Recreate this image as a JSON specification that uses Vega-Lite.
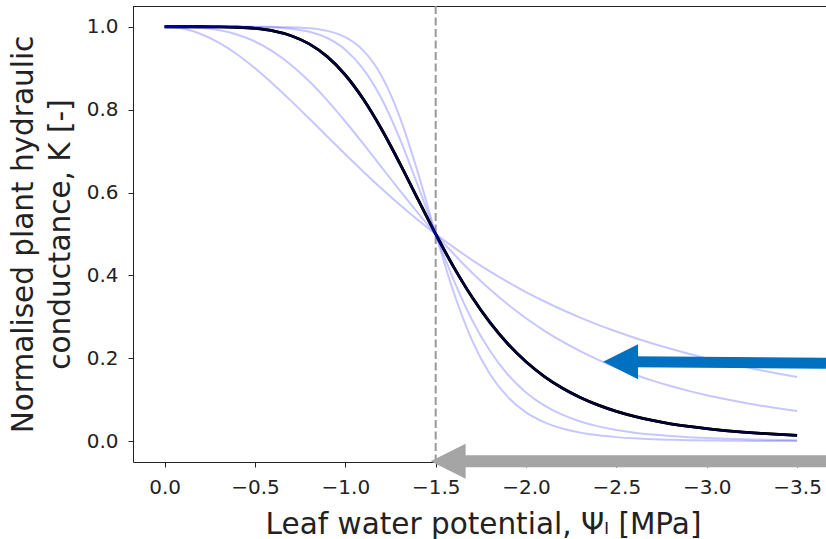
{
  "$schema": "https://vega.github.io/schema/vega-lite/v6.json",
  "autosize": "none",
  "padding": {"left": 133, "top": 6, "right": 0, "bottom": 77},
  "width": 693,
  "height": 456,
  "background": "white",
  "config": {
    "view": {"stroke": null},
    "font": "DejaVu Sans",
    "axis": {
      "grid": false,
      "labelFont": "DejaVu Sans",
      "labelFontSize": 20,
      "labelColor": "#222",
      "labelPadding": 10,
      "labelFlush": false,
      "labelOverlap": false,
      "tickSize": 5,
      "tickColor": "#222",
      "tickWidth": 1,
      "domainColor": "#222",
      "domainWidth": 1,
      "titleFont": "DejaVu Sans",
      "titleFontSize": 29.5,
      "titleFontWeight": "normal",
      "titleColor": "#222"
    }
  },
  "datasets": {
    "curves": [
      {"psi":0,"a":2,"K":1},{"psi":-0.1,"a":2,"K":0.9956},{"psi":-0.2,"a":2,"K":0.9825},{"psi":-0.3,"a":2,"K":0.9615},{"psi":-0.4,"a":2,"K":0.9336},{"psi":-0.5,"a":2,"K":0.9},{"psi":-0.6,"a":2,"K":0.8621},{"psi":-0.7,"a":2,"K":0.8212},{"psi":-0.8,"a":2,"K":0.7785},{"psi":-0.9,"a":2,"K":0.7353},{"psi":-1.0,"a":2,"K":0.6923},{"psi":-1.1,"a":2,"K":0.6503},{"psi":-1.2,"a":2,"K":0.6098},{"psi":-1.3,"a":2,"K":0.5711},{"psi":-1.4,"a":2,"K":0.5344},{"psi":-1.5,"a":2,"K":0.5},{"psi":-1.6,"a":2,"K":0.4678},{"psi":-1.7,"a":2,"K":0.4377},{"psi":-1.8,"a":2,"K":0.4098},{"psi":-1.9,"a":2,"K":0.384},{"psi":-2.0,"a":2,"K":0.36},{"psi":-2.1,"a":2,"K":0.3378},{"psi":-2.2,"a":2,"K":0.3173},{"psi":-2.3,"a":2,"K":0.2984},{"psi":-2.4,"a":2,"K":0.2809},{"psi":-2.5,"a":2,"K":0.2647},{"psi":-2.6,"a":2,"K":0.2497},{"psi":-2.7,"a":2,"K":0.2358},{"psi":-2.8,"a":2,"K":0.223},{"psi":-2.9,"a":2,"K":0.2111},{"psi":-3.0,"a":2,"K":0.2},{"psi":-3.1,"a":2,"K":0.1897},{"psi":-3.2,"a":2,"K":0.1801},{"psi":-3.3,"a":2,"K":0.1712},{"psi":-3.4,"a":2,"K":0.1629},{"psi":-3.5,"a":2,"K":0.1552},
      {"psi":0,"a":3,"K":1},{"psi":-0.1,"a":3,"K":0.9997},{"psi":-0.2,"a":3,"K":0.9976},{"psi":-0.3,"a":3,"K":0.9921},{"psi":-0.4,"a":3,"K":0.9814},{"psi":-0.5,"a":3,"K":0.9643},{"psi":-0.6,"a":3,"K":0.9398},{"psi":-0.7,"a":3,"K":0.9077},{"psi":-0.8,"a":3,"K":0.8683},{"psi":-0.9,"a":3,"K":0.8224},{"psi":-1.0,"a":3,"K":0.7714},{"psi":-1.1,"a":3,"K":0.7172},{"psi":-1.2,"a":3,"K":0.6614},{"psi":-1.3,"a":3,"K":0.6057},{"psi":-1.4,"a":3,"K":0.5516},{"psi":-1.5,"a":3,"K":0.5},{"psi":-1.6,"a":3,"K":0.4518},{"psi":-1.7,"a":3,"K":0.4072},{"psi":-1.8,"a":3,"K":0.3666},{"psi":-1.9,"a":3,"K":0.3298},{"psi":-2.0,"a":3,"K":0.2967},{"psi":-2.1,"a":3,"K":0.2671},{"psi":-2.2,"a":3,"K":0.2407},{"psi":-2.3,"a":3,"K":0.2172},{"psi":-2.4,"a":3,"K":0.1962},{"psi":-2.5,"a":3,"K":0.1776},{"psi":-2.6,"a":3,"K":0.1611},{"psi":-2.7,"a":3,"K":0.1464},{"psi":-2.8,"a":3,"K":0.1333},{"psi":-2.9,"a":3,"K":0.1216},{"psi":-3.0,"a":3,"K":0.1111},{"psi":-3.1,"a":3,"K":0.1018},{"psi":-3.2,"a":3,"K":0.0934},{"psi":-3.3,"a":3,"K":0.0859},{"psi":-3.4,"a":3,"K":0.0791},{"psi":-3.5,"a":3,"K":0.073},
      {"psi":0,"a":5,"K":1},{"psi":-0.1,"a":5,"K":1},{"psi":-0.2,"a":5,"K":1},{"psi":-0.3,"a":5,"K":0.9997},{"psi":-0.4,"a":5,"K":0.9987},{"psi":-0.5,"a":5,"K":0.9959},{"psi":-0.6,"a":5,"K":0.9899},{"psi":-0.7,"a":5,"K":0.9783},{"psi":-0.8,"a":5,"K":0.9586},{"psi":-0.9,"a":5,"K":0.9279},{"psi":-1.0,"a":5,"K":0.8836},{"psi":-1.1,"a":5,"K":0.825},{"psi":-1.2,"a":5,"K":0.7532},{"psi":-1.3,"a":5,"K":0.6716},{"psi":-1.4,"a":5,"K":0.5854},{"psi":-1.5,"a":5,"K":0.5},{"psi":-1.6,"a":5,"K":0.42},{"psi":-1.7,"a":5,"K":0.3484},{"psi":-1.8,"a":5,"K":0.2867},{"psi":-1.9,"a":5,"K":0.2347},{"psi":-2.0,"a":5,"K":0.1918},{"psi":-2.1,"a":5,"K":0.1568},{"psi":-2.2,"a":5,"K":0.1284},{"psi":-2.3,"a":5,"K":0.1056},{"psi":-2.4,"a":5,"K":0.0871},{"psi":-2.5,"a":5,"K":0.0722},{"psi":-2.6,"a":5,"K":0.0601},{"psi":-2.7,"a":5,"K":0.0503},{"psi":-2.8,"a":5,"K":0.0422},{"psi":-2.9,"a":5,"K":0.0357},{"psi":-3.0,"a":5,"K":0.0303},{"psi":-3.1,"a":5,"K":0.0258},{"psi":-3.2,"a":5,"K":0.0221},{"psi":-3.3,"a":5,"K":0.019},{"psi":-3.4,"a":5,"K":0.0164},{"psi":-3.5,"a":5,"K":0.0143},
      {"psi":0,"a":7,"K":1},{"psi":-0.1,"a":7,"K":1},{"psi":-0.2,"a":7,"K":1},{"psi":-0.3,"a":7,"K":1},{"psi":-0.4,"a":7,"K":0.9999},{"psi":-0.5,"a":7,"K":0.9995},{"psi":-0.6,"a":7,"K":0.9984},{"psi":-0.7,"a":7,"K":0.9952},{"psi":-0.8,"a":7,"K":0.9879},{"psi":-0.9,"a":7,"K":0.9728},{"psi":-1.0,"a":7,"K":0.9447},{"psi":-1.1,"a":7,"K":0.8977},{"psi":-1.2,"a":7,"K":0.8267},{"psi":-1.3,"a":7,"K":0.7314},{"psi":-1.4,"a":7,"K":0.6185},{"psi":-1.5,"a":7,"K":0.5},{"psi":-1.6,"a":7,"K":0.389},{"psi":-1.7,"a":7,"K":0.2939},{"psi":-1.8,"a":7,"K":0.2182},{"psi":-1.9,"a":7,"K":0.1605},{"psi":-2.0,"a":7,"K":0.1178},{"psi":-2.1,"a":7,"K":0.0866},{"psi":-2.2,"a":7,"K":0.0641},{"psi":-2.3,"a":7,"K":0.0478},{"psi":-2.4,"a":7,"K":0.0359},{"psi":-2.5,"a":7,"K":0.0272},{"psi":-2.6,"a":7,"K":0.0208},{"psi":-2.7,"a":7,"K":0.0161},{"psi":-2.8,"a":7,"K":0.0125},{"psi":-2.9,"a":7,"K":0.0098},{"psi":-3.0,"a":7,"K":0.0078},{"psi":-3.1,"a":7,"K":0.0062},{"psi":-3.2,"a":7,"K":0.0049},{"psi":-3.3,"a":7,"K":0.004},{"psi":-3.4,"a":7,"K":0.0032},{"psi":-3.5,"a":7,"K":0.0026},
      {"psi":0,"a":9,"K":1},{"psi":-0.1,"a":9,"K":1},{"psi":-0.2,"a":9,"K":1},{"psi":-0.3,"a":9,"K":1},{"psi":-0.4,"a":9,"K":1},{"psi":-0.5,"a":9,"K":1},{"psi":-0.6,"a":9,"K":0.9997},{"psi":-0.7,"a":9,"K":0.999},{"psi":-0.8,"a":9,"K":0.9965},{"psi":-0.9,"a":9,"K":0.99},{"psi":-1.0,"a":9,"K":0.9747},{"psi":-1.1,"a":9,"K":0.9422},{"psi":-1.2,"a":9,"K":0.8817},{"psi":-1.3,"a":9,"K":0.7838},{"psi":-1.4,"a":9,"K":0.6505},{"psi":-1.5,"a":9,"K":0.5},{"psi":-1.6,"a":9,"K":0.3588},{"psi":-1.7,"a":9,"K":0.2448},{"psi":-1.8,"a":9,"K":0.1624},{"psi":-1.9,"a":9,"K":0.1064},{"psi":-2.0,"a":9,"K":0.0698},{"psi":-2.1,"a":9,"K":0.0462},{"psi":-2.2,"a":9,"K":0.0309},{"psi":-2.3,"a":9,"K":0.0209},{"psi":-2.4,"a":9,"K":0.0143},{"psi":-2.5,"a":9,"K":0.01},{"psi":-2.6,"a":9,"K":0.007},{"psi":-2.7,"a":9,"K":0.005},{"psi":-2.8,"a":9,"K":0.0036},{"psi":-2.9,"a":9,"K":0.0026},{"psi":-3.0,"a":9,"K":0.002},{"psi":-3.1,"a":9,"K":0.0015},{"psi":-3.2,"a":9,"K":0.0011},{"psi":-3.3,"a":9,"K":0.0008},{"psi":-3.4,"a":9,"K":0.0006},{"psi":-3.5,"a":9,"K":0.0005}
    ],
    "shafts": [
      {"arrow":"blue","x1":-2.6,"x2":-3.66,"y1":0.192,"y2":0.188},
      {"arrow":"gray","x1":-1.64,"x2":-3.66,"y1":-0.048,"y2":-0.048}
    ],
    "heads": [
      {"arrow":"blue","x":-2.523,"y":0.192},
      {"arrow":"gray","x":-1.569,"y":-0.048}
    ],
    "vline": [{"psi50":-1.5}],
    "frame": [{"top":1.05}]
  },
  "layer": [
    {
      "data": {"name": "curves"},
      "transform": [{"filter": "datum.a == 5"}],
      "mark": {"type": "line", "color": "black", "strokeWidth": 2.8, "interpolate": "monotone"},
      "encoding": {
        "x": {
          "field": "psi", "type": "quantitative",
          "scale": {"domain": [0.175, -3.66], "nice": false, "zero": false},
          "axis": {
            "values": [0, -0.5, -1, -1.5, -2, -2.5, -3, -3.5],
            "format": ".1f",
            "title": "Leaf water potential, Ψₗ [MPa]",
            "titleX": 350, "titleY": 71,
            "titleBaseline": "alphabetic", "titleAlign": "center", "titleAngle": 0
          }
        },
        "y": {
          "field": "K", "type": "quantitative",
          "scale": {"domain": [-0.05, 1.05], "nice": false, "zero": false},
          "axis": {
            "values": [0, 0.2, 0.4, 0.6, 0.8, 1.0],
            "format": ".1f",
            "title": ["Normalised plant hydraulic", "conductance, K [-]"],
            "titleX": -101, "titleY": 228,
            "titleAngle": -90,
            "titleBaseline": "alphabetic", "titleAlign": "center",
            "titleLineHeight": 37.5
          }
        }
      }
    },
    {
      "data": {"name": "frame"},
      "mark": {"type": "rule", "color": "#222", "strokeWidth": 1, "yOffset": 0.5},
      "encoding": {
        "y": {"field": "top", "type": "quantitative"}
      }
    },
    {
      "data": {"name": "vline"},
      "mark": {"type": "rule", "color": "#999999", "strokeWidth": 2, "strokeDash": [8, 3.5]},
      "encoding": {
        "x": {"field": "psi50", "type": "quantitative"}
      }
    },
    {
      "data": {"name": "curves"},
      "transform": [{"filter": "datum.a == 5"}],
      "mark": {"type": "line", "color": "black", "strokeWidth": 2.8, "interpolate": "monotone"},
      "encoding": {
        "x": {"field": "psi", "type": "quantitative"},
        "y": {"field": "K", "type": "quantitative"}
      }
    },
    {
      "data": {"name": "curves"},
      "mark": {"type": "line", "color": "blue", "opacity": 0.22, "strokeWidth": 2, "interpolate": "monotone"},
      "encoding": {
        "x": {"field": "psi", "type": "quantitative"},
        "y": {"field": "K", "type": "quantitative"},
        "detail": {"field": "a", "type": "nominal"}
      }
    },
    {
      "data": {"name": "shafts"},
      "mark": {"type": "rule", "strokeCap": "butt"},
      "encoding": {
        "x": {"field": "x1", "type": "quantitative"},
        "x2": {"field": "x2"},
        "y": {"field": "y1", "type": "quantitative"},
        "y2": {"field": "y2"},
        "color": {"field": "arrow", "type": "nominal", "scale": {"domain": ["blue", "gray"], "range": ["#0070C0", "#A5A5A5"]}, "legend": null},
        "strokeWidth": {"field": "arrow", "type": "nominal", "scale": {"domain": ["blue", "gray"], "range": [11, 12]}, "legend": null}
      }
    },
    {
      "data": {"name": "heads"},
      "mark": {"type": "point", "shape": "M -1 0 L 1 -1 L 1 1 Z", "filled": true, "opacity": 1, "size": 1225, "strokeWidth": 0},
      "encoding": {
        "x": {"field": "x", "type": "quantitative"},
        "y": {"field": "y", "type": "quantitative"},
        "color": {"field": "arrow", "type": "nominal", "scale": {"domain": ["blue", "gray"], "range": ["#0070C0", "#A5A5A5"]}, "legend": null}
      }
    }
  ]
}
